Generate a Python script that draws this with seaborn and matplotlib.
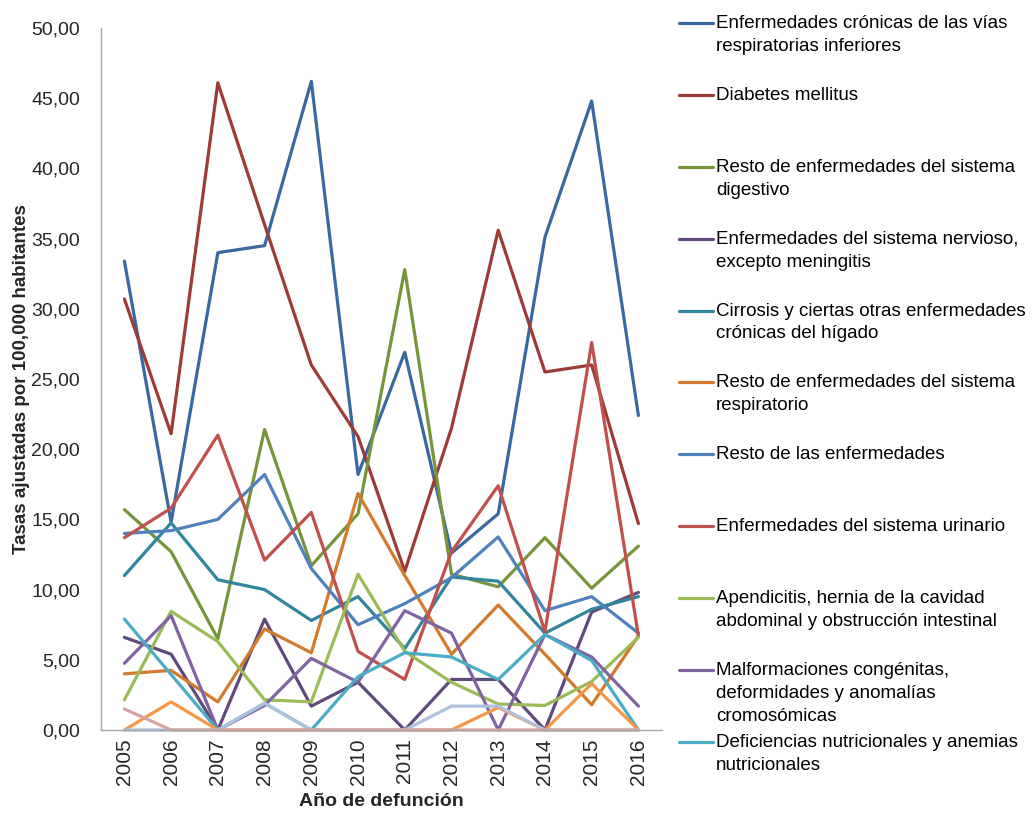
import numpy as np
import pandas as pd
import matplotlib
matplotlib.use('Agg')
import matplotlib.pyplot as plt
import seaborn as sns
from matplotlib.lines import Line2D
from matplotlib.ticker import FixedLocator, FuncFormatter

# Datos
anios = [2005, 2006, 2007, 2008, 2009, 2010, 2011, 2012, 2013, 2014, 2015, 2016]

causas = [
    "Enfermedades crónicas de las vías\nrespiratorias inferiores",
    "Diabetes mellitus",
    "Resto de enfermedades del sistema\ndigestivo",
    "Enfermedades del sistema nervioso,\nexcepto meningitis",
    "Cirrosis y ciertas otras enfermedades\ncrónicas del hígado",
    "Resto de enfermedades del sistema\nrespiratorio",
    "Resto de las enfermedades",
    "Enfermedades del sistema urinario",
    "Apendicitis, hernia de la cavidad\nabdominal y obstrucción intestinal",
    "Malformaciones congénitas,\ndeformidades y anomalías\ncromosómicas",
    "Deficiencias nutricionales y anemias\nnutricionales",
    "Serie 12",
    "Serie 13",
    "Serie 14",
]

vias_resp = [33.4, 14.8, 34.0, 34.5, 46.2, 18.2, 26.9, 12.6, 15.4, 35.1, 44.8, 22.4]
diabetes = [30.7, 21.1, 46.1, 36.0, 26.0, 20.9, 11.3, 21.5, 35.6, 25.5, 26.0, 14.7]
digestivo = [15.7, 12.7, 6.5, 21.4, 11.7, 15.4, 32.8, 11.1, 10.2, 13.7, 10.1, 13.1]
nervioso = [6.6, 5.4, 0.0, 7.9, 1.7, 3.4, 0.0, 3.6, 3.6, 0.0, 8.4, 9.8]
cirrosis = [11.0, 14.75, 10.7, 10.0, 7.8, 9.5, 5.8, 10.9, 10.6, 6.9, 8.6, 9.5]
resp_resto = [4.0, 4.25, 2.0, 7.2, 5.5, 16.85, 11.0, 5.4, 8.9, 5.4, 1.8, 6.7]
resto = [14.0, 14.2, 15.0, 18.2, 11.5, 7.5, 9.0, 10.85, 13.75, 8.5, 9.5, 6.9]
urinario = [13.7, 15.8, 21.0, 12.1, 15.5, 5.6, 3.6, 12.7, 17.4, 7.0, 27.6, 6.7]
apendicitis = [2.15, 8.45, 6.3, 2.15, 2.0, 11.1, 5.6, 3.4, 1.85, 1.75, 3.45, 6.6]
malformaciones = [4.75, 8.15, 0.0, 1.75, 5.1, 3.4, 8.5, 6.9, 0.0, 6.8, 5.2, 1.7]
deficiencias = [7.9, 3.95, 0.0, 1.9, 0.0, 3.8, 5.5, 5.2, 3.6, 6.8, 4.95, 0.0]
serie12 = [0.0, 2.0, 0.0, 0.0, 0.0, 0.0, 0.0, 0.0, 1.6, 0.0, 3.3, 0.0]
serie13 = [0.0, 0.0, 0.0, 1.9, 0.0, 0.0, 0.0, 1.7, 1.7, 0.0, 0.0, 0.0]
serie14 = [1.5, 0.0, 0.0, 0.0, 0.0, 0.0, 0.0, 0.0, 0.0, 0.0, 0.0, 0.0]

valores = [vias_resp, diabetes, digestivo, nervioso, cirrosis, resp_resto, resto,
           urinario, apendicitis, malformaciones, deficiencias, serie12, serie13, serie14]

colores = ["#3A68A1", "#9C3B38", "#77933C", "#604A7B", "#31859C", "#D27A2E", "#4F81BD",
           "#C0504D", "#9BBB59", "#8064A2", "#4BACC6", "#F79646", "#AFC2DD", "#D9A3A1"]

n_leyenda = 11

# Tabla larga para seaborn
filas = []
for causa, vals in zip(causas, valores):
    for a, v in zip(anios, vals):
        filas.append({"Año": a, "Causa": causa, "Tasa": v})
df = pd.DataFrame(filas)

sns.set_style("white")
plt.rcParams['font.family'] = ['Liberation Sans', 'DejaVu Sans']

fig = plt.figure(figsize=(10.34, 8.15), dpi=100)
ax = fig.add_axes([0.0977, 0.1043, 0.5423, 0.8613])

sns.lineplot(data=df, x="Año", y="Tasa", hue="Causa", hue_order=causas,
             palette=colores, linewidth=2.3, legend=False, ax=ax, clip_on=False)

ax.set_ylim(0, 50)
ax.set_xlim(anios[0] - 0.5, anios[-1] + 0.5)
ax.set_yticks(np.arange(0, 51, 5))
ax.yaxis.set_major_formatter(FuncFormatter(lambda v, p: f"{v:.2f}".replace('.', ',')))

# marcas entre categorias, etiquetas centradas
ax.xaxis.set_major_locator(FixedLocator([a - 0.5 for a in anios] + [anios[-1] + 0.5]))
ax.xaxis.set_minor_locator(FixedLocator(anios))
ax.set_xticklabels([])
ax.set_xticklabels([str(a) for a in anios], minor=True, rotation=90)
ax.tick_params(axis='x', which='major', length=7, width=1, color='#A6A6A6', direction='out')
ax.tick_params(axis='x', which='minor', length=0, labelsize=15, pad=6)
ax.tick_params(axis='y', length=5, width=1, color='#A6A6A6', direction='out', labelsize=14, pad=10)

for s in ['top', 'right']:
    ax.spines[s].set_visible(False)
for s in ['left', 'bottom']:
    ax.spines[s].set_color('#A6A6A6')
    ax.spines[s].set_linewidth(1)

ax.set_xlabel("Año de defunción", fontsize=14, fontweight='bold', labelpad=6)
ax.set_ylabel("Tasas ajustadas por 100,000 habitantes", fontsize=13.5, fontweight='bold', labelpad=1)

# Leyenda manual (lineas alineadas con la primera linea del texto)
W, H = 1034, 815
y0, dy = 23, 71.9
for i in range(n_leyenda):
    yy = 1 - (y0 + i * dy) / H
    fig.add_artist(Line2D([679 / W, 713 / W], [yy, yy], color=colores[i], lw=2.3))
    fig.text(716 / W, yy + 8 / H, causas[i], fontsize=13.5, va='top', ha='left',
             linespacing=1.45, color='#000000')

fig.savefig("out.png", dpi=100)
